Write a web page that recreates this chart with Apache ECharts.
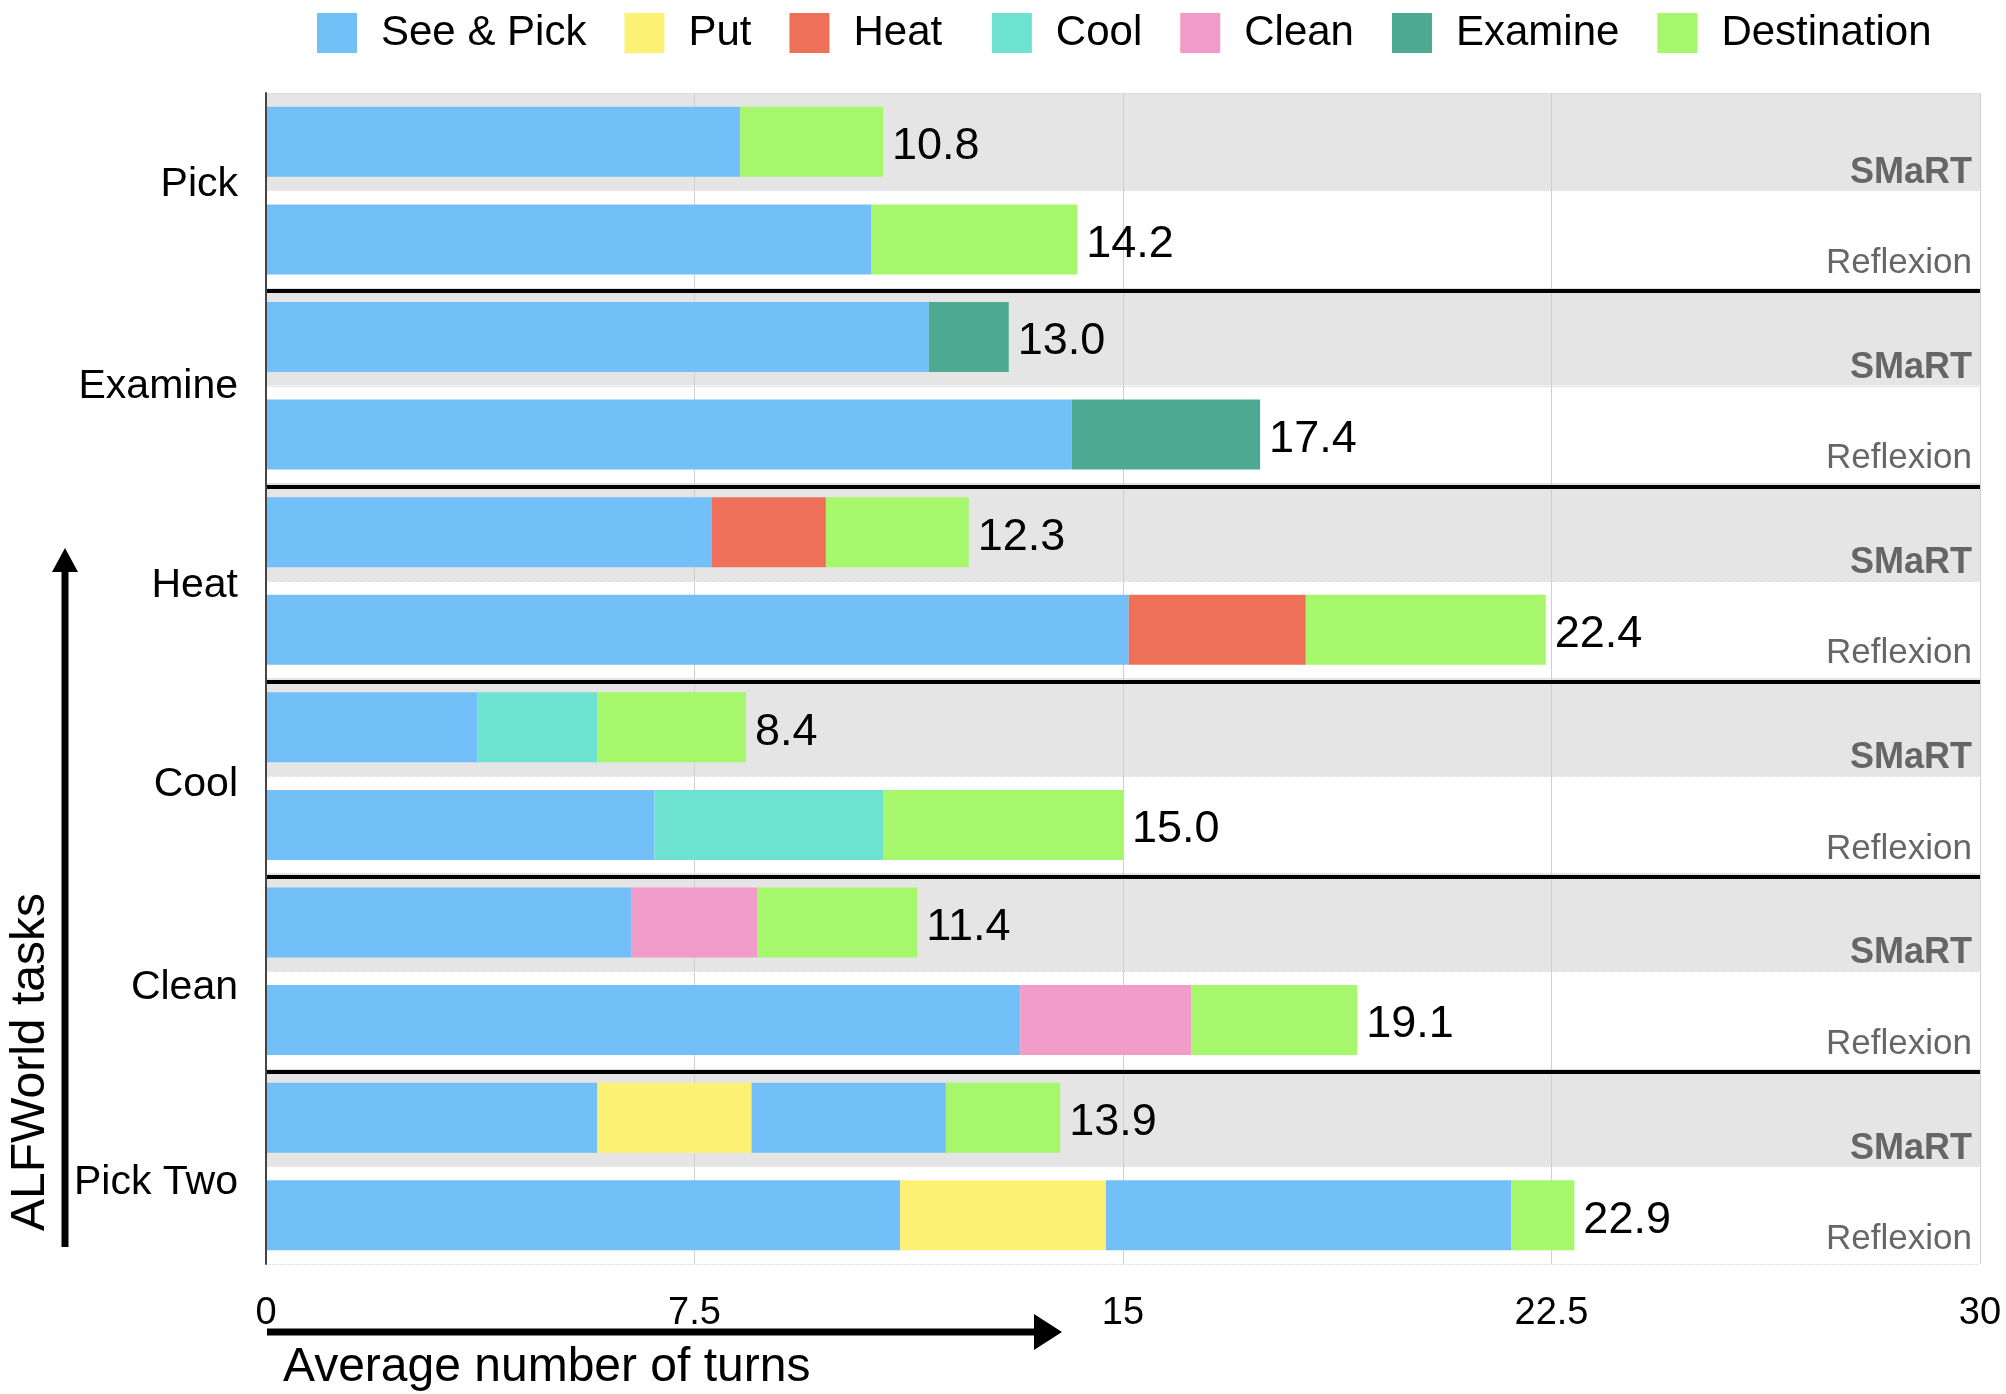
<!DOCTYPE html>
<html>
<head>
<meta charset="utf-8">
<script src="https://cdn.jsdelivr.net/npm/echarts@6/dist/echarts.min.js"></script>
<style>
html,body{margin:0;padding:0;background:#fff;}
#c{width:2006px;height:1394px;}
</style>
</head>
<body>
<div id="c"></div>
<script>
// ---- data ----
const tasks = ['Pick', 'Examine', 'Heat', 'Cool', 'Clean', 'Pick Two'];
const methods = ['SMaRT', 'Reflexion'];
// rows: Pick-SMaRT, Pick-Reflexion, Examine-SMaRT, Examine-Reflexion, ...
const seePick     = [8.3, 10.6, 11.6, 14.1, 7.8, 15.1, 3.7, 6.8, 6.4, 13.2, 5.8, 11.1];
const put         = [0, 0, 0, 0, 0, 0, 0, 0, 0, 0, 2.7, 3.6];
const seePick2    = [0, 0, 0, 0, 0, 0, 0, 0, 0, 0, 3.4, 7.1];
const heat        = [0, 0, 0, 0, 2.0, 3.1, 0, 0, 0, 0, 0, 0];
const cool        = [0, 0, 0, 0, 0, 0, 2.1, 4.0, 0, 0, 0, 0];
const clean       = [0, 0, 0, 0, 0, 0, 0, 0, 2.2, 3.0, 0, 0];
const examine     = [0, 0, 1.4, 3.3, 0, 0, 0, 0, 0, 0, 0, 0];
const destination = [2.5, 3.6, 0, 0, 2.5, 4.2, 2.6, 4.2, 2.8, 2.9, 2.0, 1.1];
const totals      = [10.8, 14.2, 13.0, 17.4, 12.3, 22.4, 8.4, 15.0, 11.4, 19.1, 13.9, 22.9];
const xMin = 0, xMax = 30, xStep = 7.5;
const legendNames = ['See & Pick', 'Put', 'Heat', 'Cool', 'Clean', 'Examine', 'Destination'];

// ---- chart ----
const FONT = '"Liberation Sans", Arial, Helvetica, sans-serif';
const rows = [];
tasks.forEach(t => methods.forEach(m => rows.push(t + '|' + m)));

const colors = {
  'See & Pick': '#73BFF8',
  'Put': '#FCF174',
  'Heat': '#EE7059',
  'Cool': '#6DE2D1',
  'Clean': '#F19CC8',
  'Examine': '#4DA991',
  'Destination': '#A6F76B'
};

function seg(name, data, color) {
  return {
    name: name, type: 'bar', stack: 'turns', yAxisIndex: 0, xAxisIndex: 0,
    data: data, barWidth: 70, itemStyle: { color: color },
    emphasis: { disabled: true }, silent: true
  };
}

const series = [
  seg('See & Pick', seePick, colors['See & Pick']),
  seg('Put', put, colors['Put']),
  seg('See & Pick 2', seePick2, colors['See & Pick']),
  seg('Heat', heat, colors['Heat']),
  seg('Cool', cool, colors['Cool']),
  seg('Clean', clean, colors['Clean']),
  seg('Examine', examine, colors['Examine']),
  seg('Destination', destination, colors['Destination']),
  {
    name: 'Total', type: 'bar', stack: 'turns', yAxisIndex: 0, xAxisIndex: 0,
    data: totals.map(() => 0), barWidth: 70, itemStyle: { color: 'rgba(0,0,0,0)' },
    silent: true,
    label: {
      show: true, position: 'right', distance: 9, offset: [0, 5],
      formatter: p => totals[p.dataIndex].toFixed(1),
      fontSize: 45, color: '#000', fontFamily: FONT
    }
  }
];

// label vertical nudges (px) for the task names, and separator colours per boundary
const taskLabelShift = [-6, 1, 5, 9, 16, 16];
const taskRich = {};
taskLabelShift.forEach((d, i) => {
  taskRich['t' + i] = {
    fontSize: 41, color: '#000', fontFamily: FONT,
    padding: d >= 0 ? [2 * d, 0, 0, 0] : [0, 0, -2 * d, 0]
  };
});
const sepColors = [];
for (let i = 0; i <= rows.length; i++) {
  sepColors.push(i > 0 && i < rows.length && i % 2 === 0 ? '#000' : 'rgba(0,0,0,0)');
}

const hiddenAxisBits = {
  axisLine: { show: false }, axisTick: { show: false }, axisLabel: { show: false },
  splitArea: { show: false }
};

const legendTxt = { fontSize: 42, color: '#000', fontFamily: FONT, padding: [0, 0, 0, 19] };

const option = {
  animation: false,
  backgroundColor: '#fff',
  textStyle: { fontFamily: FONT },
  legend: {
    data: legendNames,
    formatter: n => (n === 'Heat' ? n + ' ' : n),
    left: 312, top: 7, itemWidth: 40, itemHeight: 40, itemGap: 38,
    icon: 'rect', selectedMode: false,
    textStyle: legendTxt
  },
  grid: [
    { left: 266, right: 26, top: 93, bottom: 130, containLabel: false },
    { left: 266, right: 26, top: 96, bottom: 127, containLabel: false }
  ],
  xAxis: [
    {
      type: 'value', min: xMin, max: xMax, interval: xStep, z: 1, gridIndex: 0,
      axisLine: { show: false }, axisTick: { show: false },
      axisLabel: { fontSize: 38, color: '#000', margin: 31, fontFamily: FONT },
      splitLine: { show: true, lineStyle: { color: '#cfcfcf', width: 1 } }
    },
    { type: 'value', min: xMin, max: xMax, gridIndex: 1, show: false }
  ],
  yAxis: [
    {
      type: 'category', data: rows, inverse: true, position: 'right', z: 0, gridIndex: 0,
      axisLine: { show: false }, axisTick: { show: false },
      axisLabel: {
        inside: true, margin: 8,
        formatter: v => v.split('|')[1] === 'SMaRT' ? '{s|SMaRT}' : '{r|Reflexion}',
        rich: {
          s: { fontSize: 36, fontWeight: 'bold', color: '#666', fontFamily: FONT, padding: [62, 0, 0, 0] },
          r: { fontSize: 35, color: '#666', fontFamily: FONT, padding: [48, 0, 0, 0] }
        }
      },
      splitLine: { show: false },
      splitArea: { show: true, interval: 0, areaStyle: { color: ['#e5e5e5', '#ffffff'] } }
    },
    {
      type: 'category', data: tasks, inverse: true, position: 'left', z: 4, gridIndex: 0,
      axisLine: { show: true, lineStyle: { color: '#444', width: 2 } },
      axisTick: { show: false },
      axisLabel: {
        margin: 28,
        formatter: (v, i) => '{t' + i + '|' + v + '}',
        rich: taskRich
      },
      splitLine: { show: false }, splitArea: { show: false }
    },
    Object.assign({
      type: 'category', data: rows, inverse: true, position: 'left', z: 1, gridIndex: 0,
      splitLine: { show: true, interval: 0, lineStyle: { color: '#d6d6d6', width: 1, type: 'dotted' } }
    }, hiddenAxisBits),
    Object.assign({
      type: 'category', data: rows, inverse: true, position: 'left', z: 3, gridIndex: 1,
      splitLine: { show: true, interval: 0, lineStyle: { color: sepColors, width: 4 } }
    }, hiddenAxisBits)
  ],
  graphic: [
    { type: 'line', shape: { x1: 267, y1: 1332, x2: 1040, y2: 1332 }, style: { stroke: '#000', lineWidth: 7 } },
    { type: 'polygon', shape: { points: [[1034, 1314], [1062, 1332], [1034, 1350]] }, style: { fill: '#000' } },
    { type: 'text', x: 283, y: 1368, style: { text: 'Average number of turns', font: '48px ' + FONT, fill: '#000', align: 'left', verticalAlign: 'middle', textAlign: 'left', textVerticalAlign: 'middle' } },
    { type: 'line', shape: { x1: 65, y1: 1247, x2: 65, y2: 568 }, style: { stroke: '#000', lineWidth: 7 } },
    { type: 'polygon', shape: { points: [[52, 572], [65, 548], [78, 572]] }, style: { fill: '#000' } },
    { type: 'text', x: 31, y: 1062, rotation: Math.PI / 2, style: { text: 'ALFWorld tasks', font: '48px ' + FONT, fill: '#000', align: 'center', verticalAlign: 'middle', textAlign: 'center', textVerticalAlign: 'middle' } }
  ],
  series: series
};

const chart = echarts.init(document.getElementById('c'), null, { renderer: 'canvas' });
chart.setOption(option);
</script>
</body>
</html>
